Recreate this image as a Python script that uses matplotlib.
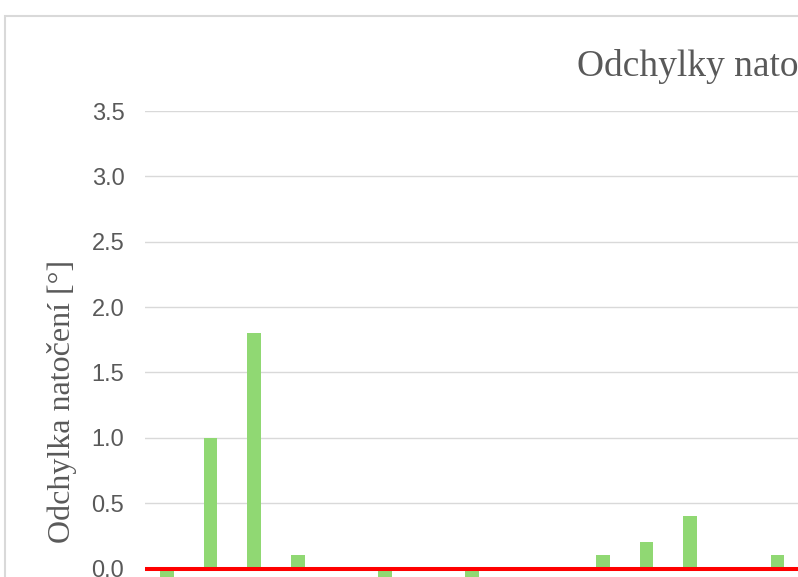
import numpy as np
import matplotlib.pyplot as plt
from matplotlib.patches import Rectangle

# data (chart is cropped on the right and bottom)
positions = list(range(1, 16))
deviations = [-0.1, 1.0, 1.8, 0.1, 0.0, -0.1, 0.0, -0.1, 0.0, 0.0, 0.1, 0.2, 0.4, 0.0, 0.1]
y_ticks = [0.0, 0.5, 1.0, 1.5, 2.0, 2.5, 3.0, 3.5]
y_tick_labels = ['0.0', '0.5', '1.0', '1.5', '2.0', '2.5', '3.0', '3.5']

W, H = 798, 577
fig = plt.figure(figsize=(W / 100, H / 100), dpi=100)

# plot area in pixels: left 145, top 111 (3.5), zero at 568.5
px_per_unit = (568.5 - 111) / 3.5
y_min, y_max = -0.5, 3.5
ax_left = 145.2
ax_right = 145.2 + 15 * 43.6
ax_top = 111
ax_bottom = 568.5 + (0 - y_min) * px_per_unit
ax = fig.add_axes([ax_left / W, 1 - ax_bottom / H,
                   (ax_right - ax_left) / W, (ax_bottom - ax_top) / H])

x = np.arange(len(positions))
ax.bar(x, deviations, width=0.314, color='#90D873', zorder=2)
ax.axhline(0, color='#FF0000', lw=2.9, zorder=3)

ax.set_xlim(-0.5, len(positions) - 0.5)
ax.set_ylim(y_min, y_max)
ax.set_yticks(y_ticks)
ax.set_yticklabels(y_tick_labels, fontfamily='Liberation Sans', fontsize=17, color='#595959')
ax.set_xticks([])
ax.tick_params(axis='y', length=0, pad=15)
ax.grid(axis='y', color='#D9D9D9', lw=1.0, zorder=0)
for s in ax.spines.values():
    s.set_visible(False)

fig.text(62.5 / W, 1 - 401 / H, 'Odchylka natočení [°]', rotation=90,
         ha='center', va='center', fontfamily='Liberation Serif',
         fontsize=23, color='#595959')
fig.text(577 / W, 1 - 76 / H, 'Odchylky natočení', ha='left', va='baseline',
         fontfamily='Liberation Serif', fontsize=27, color='#595959')

# chart area border
fig.patches.append(Rectangle((5 / W, -0.1), 1.1, 1 - 16 / H + 0.1, transform=fig.transFigure,
                             fill=False, edgecolor='#D9D9D9', lw=1.5))

fig.savefig('out.png', dpi=100)
